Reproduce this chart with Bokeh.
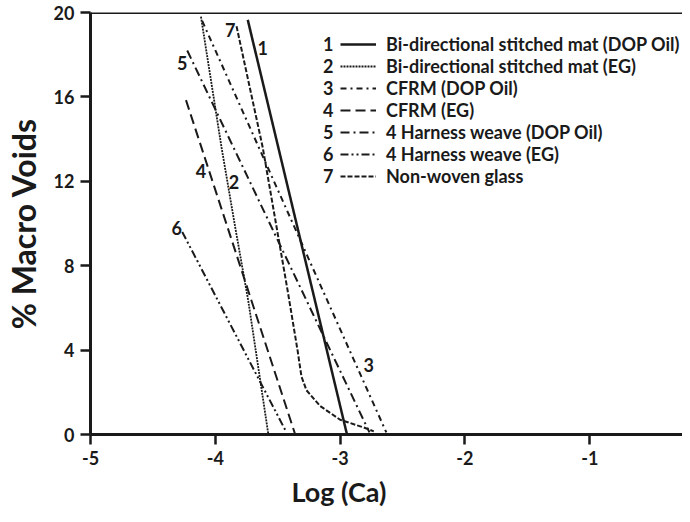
from bokeh.plotting import figure
from bokeh.models import Range1d, FixedTicker, Legend, LegendItem, Span, Title
from bokeh.core.properties import value
from bokeh.embed import file_html
from bokeh.resources import INLINE

FONT = "Lato"
INK = "#1a1a1a"

# ---- data ----
series_names = [
    "Bi-directional stitched mat (DOP Oil)",
    "Bi-directional stitched mat (EG)",
    "CFRM (DOP Oil)",
    "CFRM (EG)",
    "4 Harness weave (DOP Oil)",
    "4 Harness weave (EG)",
    "Non-woven glass",
]
series_ids = ["1", "2", "3", "4", "5", "6", "7"]

s1_x = [-3.74, -2.945]
s1_y = [19.65, 0.0]
s2_x = [-4.115, -3.95, -3.84, -3.735, -3.575]
s2_y = [19.8, 13.6, 9.8, 6.3, 0.0]
s3_x = [-4.105, -2.63]
s3_y = [19.6, 0.1]
s4_x = [-4.235, -3.36]
s4_y = [15.85, 0.0]
s5_x = [-4.225, -2.765]
s5_y = [18.2, 0.1]
s6_x = [-4.265, -3.43]
s6_y = [9.6, 0.1]
s7_x = [-3.83, -3.62, -3.42, -3.34, -3.31, -3.27, -3.16, -3.0, -2.81, -2.73]
s7_y = [19.35, 13.6, 6.8, 3.95, 2.75, 2.1, 1.35, 0.7, 0.33, 0.15]

curve_label_x = [-3.62, -3.85, -2.77, -4.115, -4.265, -4.31, -3.88]
curve_label_y = [18.3, 11.95, 3.3, 12.5, 17.6, 9.8, 19.15]

x_ticks = [-5, -4, -3, -2, -1]
x_tick_labels = ["-5", "-4", "-3", "-2", "-1"]
y_ticks = [0, 4, 8, 12, 16, 20]
y_tick_labels = ["0", "4", "8", "12", "16", "20"]

# ---- styles ----
dashes = ["solid", "2 1", "6 4 2 4", "10 5", "9 4 2 4", "8 3 2 3 2 3", "5 2"]
widths = [2.5, 1.8, 2, 2, 2, 2, 2]

p = figure(width=682, height=514, x_range=Range1d(-5, -0.257), y_range=Range1d(0, 20),
           output_backend="svg", toolbar_location=None,
           min_border_left=82, min_border_right=0, min_border_top=12, min_border_bottom=80)
p.outline_line_color = None
p.grid.visible = False
p.background_fill_color = "white"

for ax in (p.xaxis[0], p.yaxis[0]):
    ax.axis_line_width = 3
    ax.axis_line_color = INK
    ax.major_tick_line_width = 2.5
    ax.major_tick_line_color = INK
    ax.major_tick_out = 10
    ax.major_tick_in = 0
    ax.minor_tick_line_color = None
    ax.major_label_text_font = FONT
    ax.major_label_text_font_style = "bold"
    ax.major_label_text_font_size = "18px"
    ax.major_label_text_color = INK
    ax.major_label_standoff = 6

p.xaxis.ticker = FixedTicker(ticks=x_ticks)
p.xaxis.major_label_overrides = dict(zip(x_ticks, x_tick_labels))
p.yaxis.ticker = FixedTicker(ticks=y_ticks)
p.yaxis.major_label_overrides = dict(zip(y_ticks, y_tick_labels))
p.yaxis.axis_label = "% Macro Voids"
p.yaxis.axis_label_text_font = FONT
p.yaxis.axis_label_text_font_style = "bold"
p.yaxis.axis_label_text_font_size = "32px"
p.yaxis.axis_label_text_color = INK
p.yaxis.axis_label_standoff = 8

xs = [s1_x, s2_x, s3_x, s4_x, s5_x, s6_x, s7_x]
ys = [s1_y, s2_y, s3_y, s4_y, s5_y, s6_y, s7_y]
renderers = []
for x, y, d, w in zip(xs, ys, dashes, widths):
    r = p.line(x, y, line_color=INK, line_width=w, line_dash=d)
    renderers.append(r)

p.text(x=curve_label_x, y=curve_label_y, text=series_ids, text_font=value(FONT),
       text_font_style="bold", text_font_size="18px", text_color=INK,
       text_align="center", text_baseline="middle")

# top frame line
p.add_layout(Span(location=20, dimension="width", line_color=INK, line_width=3))

# x-axis title (placed off-centre like the reference)
p.add_layout(Title(text="Log (Ca)", align="left", offset=201, standoff=10,
                   text_font=FONT, text_font_style="bold", text_font_size="27px",
                   text_color=INK), "below")

legend = Legend(items=[LegendItem(label=n, renderers=[r]) for n, r in zip(series_names, renderers)],
                location=(250, 247), padding=0, margin=0, spacing=0,
                glyph_width=36, glyph_height=20, label_height=20, label_standoff=10,
                border_line_color=None, background_fill_alpha=0,
                label_text_font=FONT, label_text_font_style="bold",
                label_text_font_size="18px", label_text_color=INK,
                label_text_baseline="middle")
p.add_layout(legend)

dummy = p.line(x=[], y=[], line_alpha=0)
num_legend = Legend(items=[LegendItem(label=s, renderers=[dummy]) for s in series_ids],
                    location=(232, 247), padding=0, margin=0, spacing=0,
                    glyph_width=1, glyph_height=20, label_height=20, label_standoff=0,
                    border_line_color=None, background_fill_alpha=0,
                    label_text_font=FONT, label_text_font_style="bold",
                    label_text_font_size="18px", label_text_color=INK,
                    label_text_baseline="middle")
p.add_layout(num_legend)

open("out.html", "w").write(file_html(p, INLINE))
